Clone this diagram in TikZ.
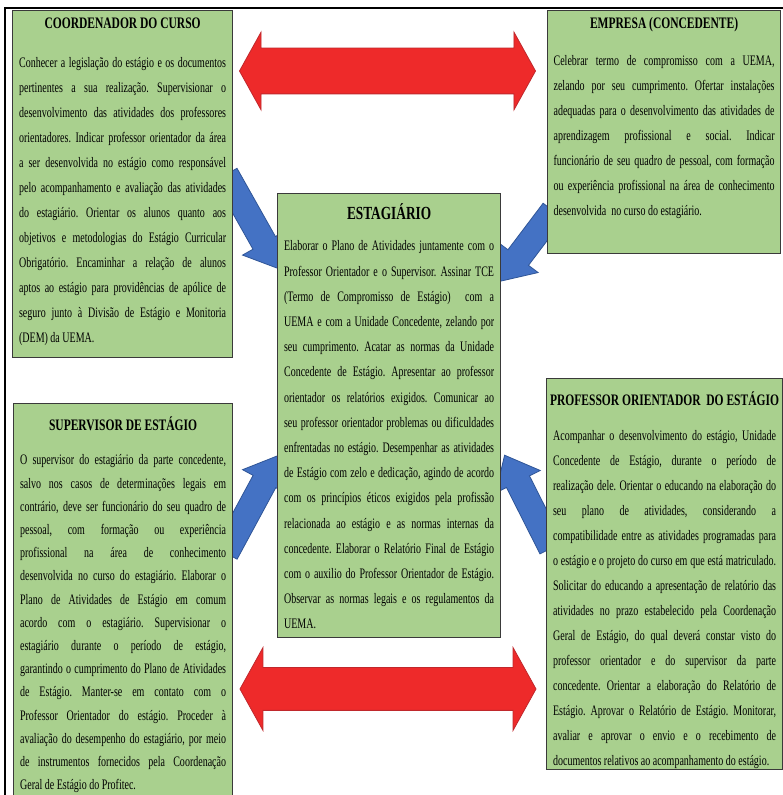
\documentclass[tikz,border=0pt]{standalone}
\usepackage{fontspec}
\setmainfont{Liberation Serif}[FakeStretch=0.69,BoldFeatures={FakeStretch=0.72}]
\usetikzlibrary{positioning,shapes.arrows}

\definecolor{boxgreen}{HTML}{A9D08E}
\definecolor{boxline}{HTML}{3A3A3A}
\definecolor{arrowred}{HTML}{EE2A2A}
\definecolor{redline}{HTML}{C0282C}
\definecolor{arrowblue}{HTML}{4472C4}
\definecolor{blueline}{HTML}{2F5597}

\tolerance=10000
\hbadness=10000
\hyphenpenalty=10000
\emergencystretch=20pt
\frenchspacing

\begin{document}
\begin{tikzpicture}[x=1pt,y=1pt,
    box/.style={draw=boxline,line width=1.2pt,fill=boxgreen,anchor=north west,inner sep=0pt},
    boxtitle/.style={anchor=base,inner sep=0pt,font=\fontsize{16}{18}\selectfont\bfseries},
    boxtext/.style={anchor=base,inner sep=0pt,align=justify,font=\fontsize{14.5}{25}\selectfont},
    redarrow/.style={double arrow,draw=redline,fill=arrowred,line width=0.8pt,
        text height=0pt,text depth=0pt,inner xsep=0pt,inner ysep=22.5pt,
        minimum height=296pt,double arrow head extend=16pt,double arrow tip angle=122},
    bluearrow/.style={single arrow,draw=blueline,fill=arrowblue,line width=0.8pt,
        text height=0pt,text depth=0pt,inner xsep=0pt,inner ysep=12.5pt,
        single arrow head extend=12pt,single arrow tip angle=80}]
    \path[use as bounding box,clip] (0,0) rectangle (783,795);
    \fill[white] (0,0) rectangle (783,795);
    % outer frame
    \draw[line width=2.6pt] (5,-10) -- (5,787) -- (800,787);

    % arrows between the boxes
    \node[redarrow] (topArrow) at (387.5,724) {};
    \node[redarrow,inner ysep=21pt,double arrow head extend=20pt] (bottomArrow) at (388,106) {};
    \node[bluearrow,minimum height=108pt,rotate=-60.6] (arrowCoord) at (248.5,580) {};
    \node[bluearrow,minimum height=88pt,rotate=-127.1] (arrowEmpresa) at (531.5,555) {};
    \node[bluearrow,minimum height=111pt,rotate=61.6] (arrowSuperv) at (248.5,284) {};
    \node[bluearrow,minimum height=104pt,rotate=116.8] (arrowProf) at (531.5,286.5) {};

    % COORDENADOR
    \node[box,minimum width=220pt,minimum height=347pt] (coord) at (12,785) {};
    \node[boxtitle] (coordT) at ([yshift=-19pt]coord.north) {COORDENADOR DO CURSO};
    \node[boxtext,text width=207pt] (coordB) at ([yshift=-58pt]coord.north) {Conhecer a legislação do estágio e os documentos\linebreak
        pertinentes a sua realização. Supervisionar o\linebreak
        desenvolvimento das atividades dos professores\linebreak
        orientadores. Indicar professor orientador da área\linebreak
        a ser desenvolvida no estágio como responsável\linebreak
        pelo acompanhamento e avaliação das atividades\linebreak
        do estagiário. Orientar os alunos quanto aos\linebreak
        objetivos e metodologias do Estágio Curricular\linebreak
        Obrigatório. Encaminhar a relação de alunos\linebreak
        aptos ao estágio para providências de apólice de\linebreak
        seguro junto à Divisão de Estágio e Monitoria\linebreak
        (DEM) da UEMA.};

    % EMPRESA
    \node[box,minimum width=233pt,minimum height=243pt] (empresa) at (547,785) {};
    \node[boxtitle] (empresaT) at ([yshift=-19pt]empresa.north) {EMPRESA (CONCEDENTE)};
    \node[boxtext,text width=221pt] (empresaB) at ([yshift=-56pt]empresa.north) {Celebrar termo de compromisso com a UEMA,\linebreak
        zelando por seu cumprimento. Ofertar instalações\linebreak
        adequadas para o desenvolvimento das atividades de\linebreak
        aprendizagem profissional e social. Indicar\linebreak
        funcionário de seu quadro de pessoal, com formação\linebreak
        ou experiência profissional na área de conhecimento\linebreak
        desenvolvida \ no curso do estagiário.};

    % ESTAGIARIO
    \node[box,minimum width=223pt,minimum height=444pt] (estag) at (277,602) {};
    \node[boxtitle,font=\fontsize{18.5}{20}\selectfont\bfseries] (estagT) at ([yshift=-27pt]estag.north) {ESTAGIÁRIO};
    \node[boxtext,text width=210pt,font=\fontsize{14.5}{25.2}\selectfont] (estagB) at ([yshift=-58pt]estag.north) {Elaborar o Plano de Atividades juntamente com o\linebreak
        Professor Orientador e o Supervisor. Assinar TCE\linebreak
        (Termo de Compromisso de Estágio) \ com a\linebreak
        UEMA e com a Unidade Concedente, zelando por\linebreak
        seu cumprimento. Acatar as normas da Unidade\linebreak
        Concedente de Estágio. Apresentar ao professor\linebreak
        orientador os relatórios exigidos. Comunicar ao\linebreak
        seu professor orientador problemas ou dificuldades\linebreak
        enfrentadas no estágio. Desempenhar as atividades\linebreak
        de Estágio com zelo e dedicação, agindo de acordo\linebreak
        com os princípios éticos exigidos pela profissão\linebreak
        relacionada ao estágio e as normas internas da\linebreak
        concedente. Elaborar o Relatório Final de Estágio\linebreak
        com o auxilio do Professor Orientador de Estágio.\linebreak
        Observar as normas legais e os regulamentos da\linebreak
        UEMA.};

    % SUPERVISOR
    \node[box,minimum width=219pt,minimum height=420pt] (superv) at (13,392) {};
    \node[boxtitle] (supervT) at ([yshift=-28pt]superv.north) {SUPERVISOR DE ESTÁGIO};
    \node[boxtext,text width=206pt,font=\fontsize{14.5}{23.2}\selectfont] (supervB) at ([yshift=-62pt]superv.north) {O supervisor do estagiário da parte concedente,\linebreak
        salvo nos casos de determinações legais em\linebreak
        contrário, deve ser funcionário do seu quadro de\linebreak
        pessoal, com formação ou experiência\linebreak
        profissional na área de conhecimento\linebreak
        desenvolvida no curso do estagiário. Elaborar o\linebreak
        Plano de Atividades de Estágio em comum\linebreak
        acordo com o estagiário. Supervisionar o\linebreak
        estagiário durante o período de estágio,\linebreak
        garantindo o cumprimento do Plano de Atividades\linebreak
        de Estágio. Manter-se em contato com o\linebreak
        Professor Orientador do estágio. Proceder à\linebreak
        avaliação do desempenho do estagiário, por meio\linebreak
        de instrumentos fornecidos pela Coordenação\linebreak
        Geral de Estágio do Profitec.};

    % PROFESSOR ORIENTADOR
    \node[box,minimum width=236pt,minimum height=391pt] (prof) at (546,417) {};
    \node[boxtitle] (profT) at ([yshift=-28pt]prof.north) {PROFESSOR ORIENTADOR \ DO ESTÁGIO};
    \node[boxtext,text width=223pt] (profB) at ([yshift=-63pt]prof.north) {Acompanhar o desenvolvimento do estágio, Unidade\linebreak
        Concedente de Estágio, durante o período de\linebreak
        realização dele. Orientar o educando na elaboração do\linebreak
        seu plano de atividades, considerando a\linebreak
        compatibilidade entre as atividades programadas para\linebreak
        o estágio e o projeto do curso em que está matriculado.\linebreak
        Solicitar do educando a apresentação de relatório das\linebreak
        atividades no prazo estabelecido pela Coordenação\linebreak
        Geral de Estágio, do qual deverá constar visto do\linebreak
        professor orientador e do supervisor da parte\linebreak
        concedente. Orientar a elaboração do Relatório de\linebreak
        Estágio. Aprovar o Relatório de Estágio. Monitorar,\linebreak
        avaliar e aprovar o envio e o recebimento de\linebreak
        documentos relativos ao acompanhamento do estágio.};
\end{tikzpicture}
\end{document}
